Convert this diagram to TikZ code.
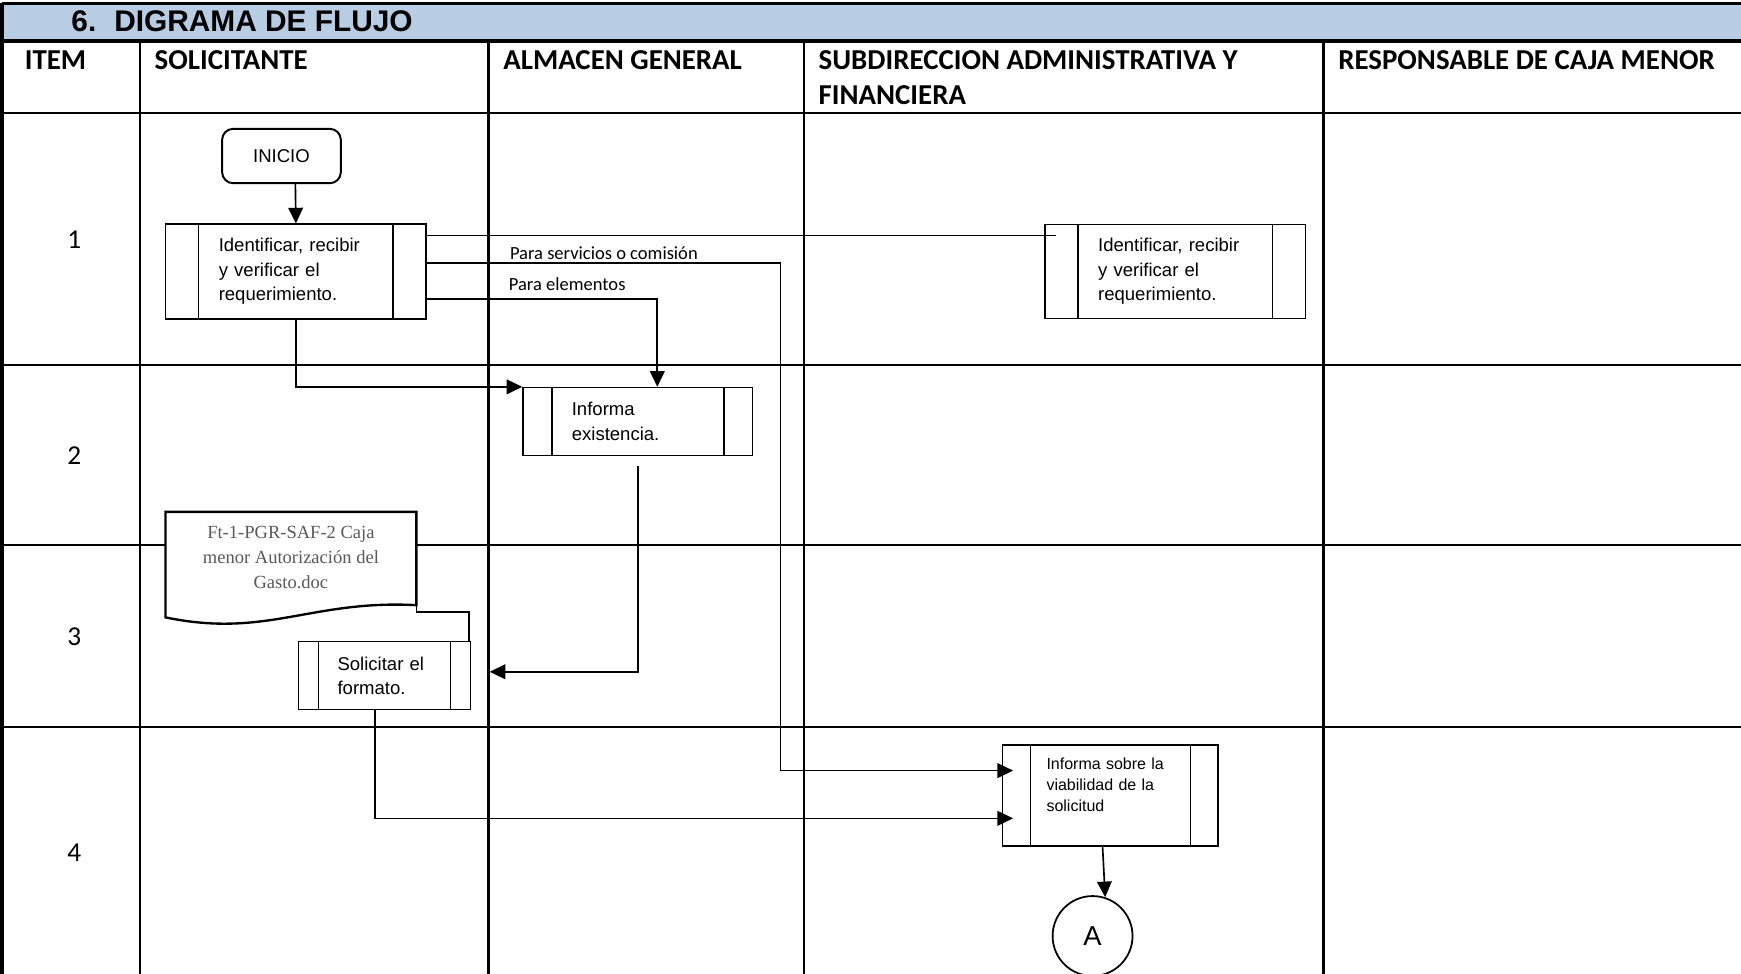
\documentclass[tikz,border=0pt]{standalone}
\usepackage{fontspec}
\setmainfont{Liberation Sans}
\newfontfamily\calibri{Carlito}
\newfontfamily\docserif{Liberation Serif}
\usetikzlibrary{arrows.meta}
\definecolor{bandblue}{HTML}{B8CCE4}
\definecolor{docgray}{HTML}{595959}

\begin{document}
\begin{tikzpicture}[x=0.02cm,y=-0.02cm,
    grid line/.style={line width=1.2pt},
    frame line/.style={line width=1.8pt},
    head text/.style={font=\calibri\bfseries\fontsize{14.8}{18}\selectfont,anchor=west,align=left,inner sep=0pt},
    item text/.style={font=\calibri\fontsize{14}{16}\selectfont},
    proc/.style={draw,line width=0.7pt,fill=white,align=left,inner sep=0pt,
        font=\fontsize{9.5}{12.5}\selectfont,
        path picture={
            \draw[line width=0.7pt] ([xshift=#1]path picture bounding box.north west) -- ([xshift=#1]path picture bounding box.south west);
            \draw[line width=0.7pt] ([xshift=-#1]path picture bounding box.north east) -- ([xshift=-#1]path picture bounding box.south east);
        }},
    flow/.style={line width=0.85pt,-{Triangle[length=8pt,width=7.5pt]}},
    link/.style={line width=0.85pt},
    edge text/.style={font=\calibri\fontsize{9.5}{11}\selectfont,anchor=west,inner sep=0pt}
    ]

    \useasboundingbox (0,0) rectangle (1568,877);
    \clip (0,0) rectangle (1568,877);

    % title band
    \fill[bandblue] (2,3) rectangle (1568,37);
    \draw[frame line] (2,3) -- (1568,3);
    \draw[frame line] (2,37) -- (1568,37);
    \draw[frame line] (2,3) -- (2,877);
    \node[font=\bfseries\fontsize{15.3}{18}\selectfont,anchor=west,inner sep=0pt] (title) at (64,19) {6.\hspace{0.6em}DIGRAMA DE FLUJO};

    % table
    \foreach \y in {102,329,491,655}
        \draw[grid line] (2,\y) -- (1568,\y);
    \foreach \x in {126,440,724,1192}
        \draw[grid line] (\x,37) -- (\x,877);

    \node[head text] (hItem) at (22,54) {ITEM};
    \node[head text] (hSol) at (139,54) {SOLICITANTE};
    \node[head text] (hAlm) at (453,54) {ALMACEN GENERAL};
    \node[head text] (hSub) at (737,70) {SUBDIRECCION ADMINISTRATIVA Y\\FINANCIERA};
    \node[head text] (hCaja) at (1205,54) {RESPONSABLE DE CAJA MENOR};

    \foreach \y/\n in {216/1,410/2,573/3,768/4}
        \node[item text] (item\n) at (67,\y) {\n};

    % shapes
    \node[draw,rounded corners=0.2cm,line width=1pt,minimum width=2.14cm,minimum height=0.98cm,
        font=\fontsize{9.5}{11}\selectfont] (ini) at (253.5,140.5) {INICIO};

    \node[proc=0.6cm,minimum width=4.7cm,minimum height=1.7cm,text width=2.78cm,line width=0.9pt] (b1) at (266.5,244.5)
        {Identificar, recibir\\y verificar el\\requerimiento.};
    \node[proc=0.6cm,minimum width=4.7cm,minimum height=1.7cm,text width=2.78cm] (b1b) at (1058.5,244.5)
        {Identificar, recibir\\y verificar el\\requerimiento.};
    \node[proc=0.52cm,minimum width=4.14cm,minimum height=1.22cm,text width=2.38cm] (b2) at (574.5,379.5)
        {Informa\\existencia.};
    \node[proc=0.36cm,minimum width=3.1cm,minimum height=1.22cm,text width=1.7cm] (b3) at (346.5,608.5)
        {Solicitar el\\formato.};
    \node[proc=0.5cm,minimum width=3.88cm,minimum height=1.82cm,text width=2.3cm,
        font=\fontsize{8.2}{10.8}\selectfont] (b4) at (1000,716.5)
        {Informa sobre la\\viabilidad de la\\solicitud\\\mbox{}};
    \node[draw,circle,line width=0.9pt,minimum size=1.44cm,inner sep=0pt,
        font=\fontsize{14}{16}\selectfont] (conA) at (984,843) {A};

    % document
    \coordinate (docNW) at (149,461);
    \coordinate (docSE) at (375,545);
    \filldraw[fill=white,line width=1.2pt] (docNW) -- (docNW -| docSE) -- (docSE)
        .. controls (280,540) and (240,575) .. (149,556) -- cycle;
    \node[font=\docserif\fontsize{9.5}{12.8}\selectfont,text=docgray,align=center] (doc) at (262,502.5)
        {Ft-1-PGR-SAF-2 Caja\\menor Autorización del\\Gasto.doc};
    \coordinate (c3) at (441,605);

    % connectors
    \draw[flow] ([xshift=0.25cm]ini.south) -- (b1.north);
    \draw[link] (b1.east |- 0,212) -- (b1b.west |- 0,212) -- ++(11,0);
    \draw[flow,shorten >=-0.2cm] (b1.east |- 0,237) -| (703,694) -- (b4.west |- 0,694);
    \draw[flow] (b1.east |- 0,269) -| ([xshift=0.35cm]b2.north);
    \draw[flow] (b1.south) |- (b2.north west);
    \draw[flow] ([yshift=-0.18cm]b2.south) |- (c3);
    \draw[link] (docSE) -- ++(0,6) -| ([xshift=-0.04cm]b3.north east);
    \draw[flow,shorten >=-0.2cm] ([xshift=-0.17cm]b3.south) |- (b4.west |- 0,737);
    \draw[flow] ([xshift=-0.14cm]b4.south) -- (conA.72);

    \node[edge text] (lServ) at (459,228) {Para servicios o comisión};
    \node[edge text] (lElem) at (458,256) {Para elementos};

\end{tikzpicture}
\end{document}
